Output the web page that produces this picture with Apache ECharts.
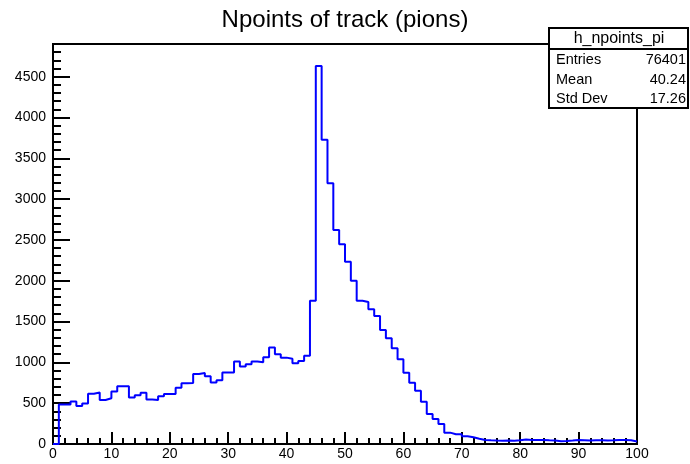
<!DOCTYPE html>
<html><head><meta charset="utf-8">
<script src="https://cdn.jsdelivr.net/npm/echarts@6/dist/echarts.min.js"></script>
<style>html,body{margin:0;padding:0;background:#fff}#c{width:690px;height:464px}</style>
</head><body><div id="c"></div>
<script>
const chartTitle = 'Npoints of track (pions)';
const binLow = 0;
const binWidth = 1;
const counts = [
  0, 485, 485, 520, 466, 495, 615, 632, 540, 560,
  644, 706, 706, 569, 596, 627, 546, 540, 586, 613,
  612, 690, 745, 748, 858, 870, 830, 752, 780, 876,
  876, 1012, 948, 978, 1010, 1002, 1064, 1182, 1098, 1058,
  1045, 990, 1018, 1082, 1755, 4632, 3726, 3194, 2622, 2446,
  2234, 1999, 1755, 1740, 1650, 1568, 1398, 1294, 1172, 1037,
  874, 751, 653, 518, 368, 306, 245, 139, 119, 119,
  94, 82, 65, 49, 45, 42, 40, 42, 40, 45,
  55, 50, 48, 50, 45, 42, 35, 38, 42, 48,
  45, 42, 45, 45, 42, 45, 50, 48, 45, 30
];
const statsName = 'h_npoints_pi';
const statsLabels = ['Entries', 'Mean', 'Std Dev'];
const statsValues = ['76401', '40.24', '17.26'];
const xRange = [0, 100];
const yRange = [0, 4900];

const FONT = 'Liberation Sans, Arial, Helvetica, sans-serif';
const pts = counts.map((v, i) => [binLow + i * binWidth, v]);
pts.push([binLow + counts.length * binWidth, counts[counts.length - 1]]);

const black = '#000';
const chart = echarts.init(document.getElementById('c'), null, {renderer: 'canvas'});

const statsGraphics = [
  {type: 'rect', shape: {x: 549, y: 28, width: 139, height: 80},
   style: {fill: '#fff', stroke: black, lineWidth: 2}, z: 100},
  {type: 'line', shape: {x1: 549, y1: 49, x2: 688, y2: 49},
   style: {stroke: black, lineWidth: 2}, z: 101},
  {type: 'text', x: 619, y: 39, style: {text: statsName, font: '16px ' + FONT, fill: black, align: 'center', verticalAlign: 'middle'}, z: 102}
];
statsLabels.forEach((lab, i) => {
  const y = 60 + i * 19.5;
  statsGraphics.push({type: 'text', x: 556, y: y, style: {text: lab, font: '14.5px ' + FONT, fill: black, align: 'left', verticalAlign: 'middle'}, z: 102});
  statsGraphics.push({type: 'text', x: 686, y: y, style: {text: statsValues[i], font: '14.5px ' + FONT, fill: black, align: 'right', verticalAlign: 'middle'}, z: 102});
});

chart.setOption({
  animation: false,
  backgroundColor: '#fff',
  title: {text: chartTitle, left: 'center', top: 3,
    textStyle: {fontFamily: FONT, fontSize: 24, fontWeight: 'normal', color: black}},
  grid: {left: 53, right: 53, top: 44, bottom: 20, show: true, borderColor: black, borderWidth: 2, backgroundColor: 'transparent'},
  xAxis: [{
    type: 'value', min: xRange[0], max: xRange[1], interval: 10,
    axisLine: {lineStyle: {color: black, width: 2}},
    axisTick: {inside: true, length: 12, lineStyle: {color: black, width: 2}},
    minorTick: {show: true, splitNumber: 5, length: 6, lineStyle: {color: black, width: 2}},
    splitLine: {show: false},
    axisLabel: {color: black, fontSize: 14, fontFamily: FONT, margin: 3, formatter: v => String(v)}
  }],
  yAxis: [{
    type: 'value', min: yRange[0], max: yRange[1], interval: 100, position: 'left',
    axisLine: {show: true, lineStyle: {color: black, width: 2}},
    axisTick: {show: true, inside: true, length: 8, lineStyle: {color: black, width: 2}},
    axisLabel: {show: false},
    splitLine: {show: false}
  }, {
    type: 'value', min: yRange[0], max: yRange[1], interval: 500, position: 'left', offset: 0,
    axisLine: {show: true, lineStyle: {color: black, width: 2}},
    axisTick: {show: true, inside: true, length: 17, lineStyle: {color: black, width: 2}},
    axisLabel: {color: black, fontSize: 14, fontFamily: FONT, margin: 7, showMaxLabel: false, formatter: v => String(v)},
    splitLine: {show: false}
  }],
  series: [{
    type: 'line', step: 'end', data: pts, xAxisIndex: 0, yAxisIndex: 0,
    symbol: 'none', lineStyle: {color: '#0000ff', width: 2}, z: 5
  }],
  graphic: statsGraphics
});
</script></body></html>
